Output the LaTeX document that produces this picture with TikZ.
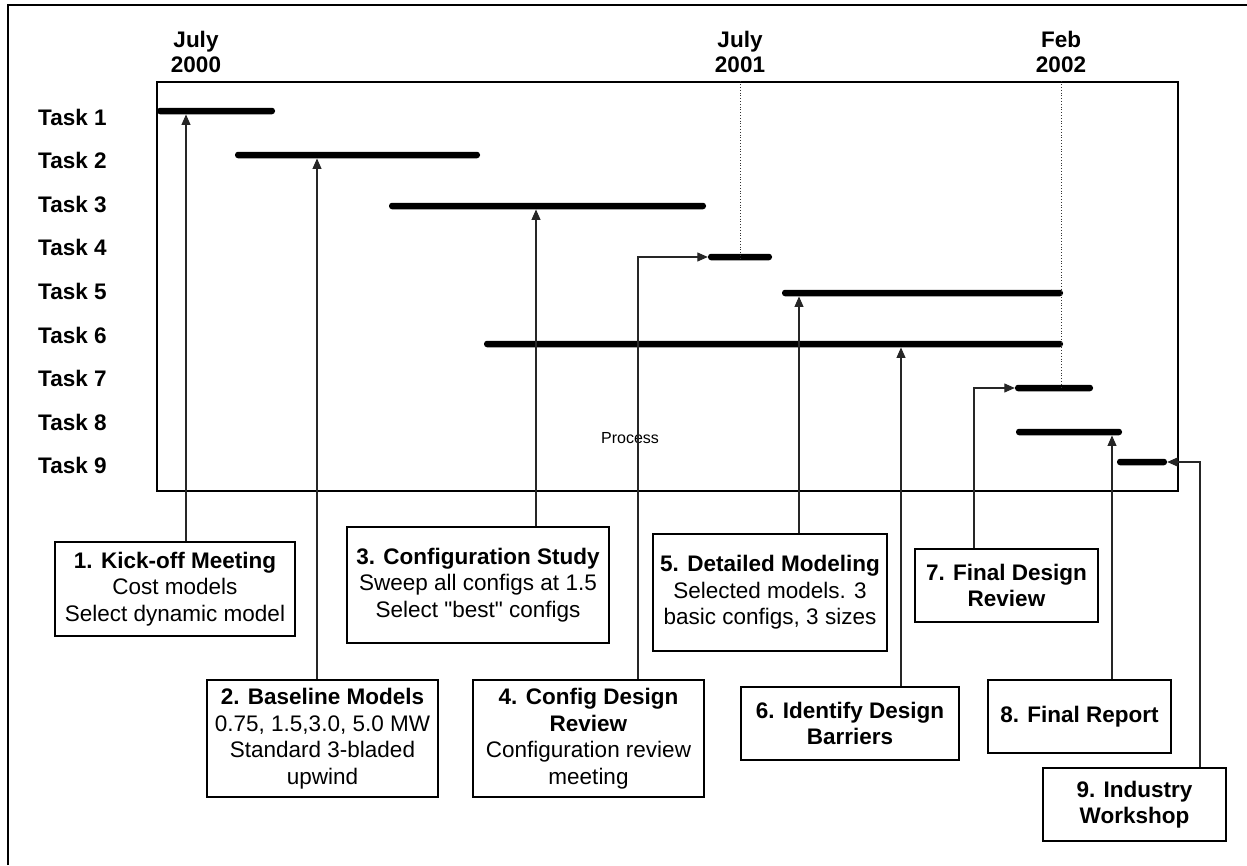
\documentclass[tikz,border=0pt]{standalone}
\usepackage{fontspec}
\setmainfont{Liberation Sans}[Ligatures=TeXOff]
\usepackage{tikz}
\usetikzlibrary{arrows.meta}

\begin{document}
\begin{tikzpicture}[
  x=1pt, y=-1pt,
  font=\fontsize{22.5}{26.5}\selectfont,
  box/.style={draw=black, line width=1.3pt, align=center, inner sep=0pt},
  bar/.style={fill=black, rounded corners=3pt, minimum height=6.5pt, inner sep=0pt},
  arr/.style={-{Triangle[length=10.5pt,width=9pt]}, draw=black!85, line width=1.1pt},
  task/.style={font=\fontsize{22.5}{26.5}\selectfont\bfseries, anchor=base west, inner sep=0pt},
  date/.style={font=\fontsize{22.5}{25}\selectfont\bfseries, align=center, inner sep=0pt},
  milestone/.style={draw=black!80, dotted, line width=0.8pt},
]
  \useasboundingbox (0,0) rectangle (1247,865);

  % Page frame
  \coordinate (pagetl) at (8,5);
  \draw[line width=1.2pt] (pagetl |- 0,865) -- (pagetl) -- (1247,5);

  % Chart area
  \node[draw, line width=1.2pt, minimum width=1021pt, minimum height=409pt, inner sep=0pt]
    (chart) at (667.5,286.5) {};

  % Dates
  \node[date] (d2000) at (196,51.5) {July\\2000};
  \node[date] (d2001) at (740,51.5) {July\\2001};
  \node[date] (d2002) at (1061,51.5) {Feb\\2002};

  % Task labels
  \node[task] (task1) at (38,125)   {Task 1};
  \node[task] (task2) at (38,168.6) {Task 2};
  \node[task] (task3) at (38,212.2) {Task 3};
  \node[task] (task4) at (38,255.8) {Task 4};
  \node[task] (task5) at (38,299.4) {Task 5};
  \node[task] (task6) at (38,343)   {Task 6};
  \node[task] (task7) at (38,386.6) {Task 7};
  \node[task] (task8) at (38,430.2) {Task 8};
  \node[task] (task9) at (38,473.8) {Task 9};

  % Bars
  \node[bar, minimum width=118pt] (bar1) at (216,111)    {};
  \node[bar, minimum width=245pt] (bar2) at (357.5,155)  {};
  \node[bar, minimum width=317pt] (bar3) at (547.5,206)  {};
  \node[bar, minimum width=64pt]  (bar4) at (740,257)    {};
  \node[bar, minimum width=281pt] (bar5) at (922.5,293)  {};
  \node[bar, minimum width=579pt] (bar6) at (773.5,344)  {};
  \node[bar, minimum width=78pt]  (bar7) at (1054,388)   {};
  \node[bar, minimum width=106pt] (bar8) at (1069,432)   {};
  \node[bar, minimum width=50pt]  (bar9) at (1142,462)   {};

  % Milestone marks
  \draw[milestone] (d2001 |- chart.north) -- ([yshift=-6pt]d2001 |- bar4.north);
  \draw[milestone] (d2002 |- chart.north) -- ([yshift=-3pt]d2002 |- bar7.north);

  \node[font=\fontsize{16}{19}\selectfont] (process) at (630,438) {Process};

  % Boxes
  \node[box, minimum width=240pt, minimum height=94pt] (box1) at (175,589)
    {\textbf{1. Kick-off Meeting}\\Cost models\\Select dynamic model};
  \node[box, minimum width=231pt, minimum height=117pt] (box2) at (322.5,738.5)
    {\textbf{2. Baseline Models}\\0.75, 1.5,3.0, 5.0 MW\\Standard 3-bladed\\upwind};
  \node[box, minimum width=262pt, minimum height=116pt] (box3) at (478,585)
    {\textbf{3. Configuration Study}\\Sweep all configs at 1.5\\Select "best" configs};
  \node[box, minimum width=231pt, minimum height=117pt] (box4) at (588.5,738.5)
    {\textbf{4. Config Design}\\\textbf{Review}\\Configuration review\\meeting};
  \node[box, minimum width=234pt, minimum height=117pt] (box5) at (770,592.5)
    {\textbf{5. Detailed Modeling}\\Selected models. 3\\basic configs, 3 sizes};
  \node[box, minimum width=218pt, minimum height=73pt] (box6) at (850,723.5)
    {\textbf{6. Identify Design}\\\textbf{Barriers}};
  \node[box, minimum width=183pt, minimum height=73pt] (box7) at (1006.5,585.5)
    {\textbf{7. Final Design}\\\textbf{Review}};
  \node[box, minimum width=183pt, minimum height=73pt] (box8) at (1079.5,716.5)
    {\textbf{8. Final Report}};
  \node[box, minimum width=183pt, minimum height=73pt] (box9) at (1134.5,804.5)
    {\textbf{9. Industry}\\\textbf{Workshop}};

  % Connectors from the boxes to the bars
  \draw[arr] ([xshift=11pt]box1.north) -- ([xshift=11pt]box1.north |- bar1.south);
  \draw[arr] ([xshift=-5.5pt]box2.north) -- ([xshift=-5.5pt]box2.north |- bar2.south);
  \draw[arr] ([xshift=58pt]box3.north) -- ([xshift=58pt]box3.north |- bar3.south);
  \draw[arr] ([xshift=49.5pt]box4.north) |- (bar4.west);
  \draw[arr] ([xshift=29pt]box5.north) -- ([xshift=29pt]box5.north |- bar5.south);
  \draw[arr] ([xshift=51pt]box6.north) -- ([xshift=51pt]box6.north |- bar6.south);
  \draw[arr] ([xshift=-32.5pt]box7.north) |- (bar7.west);
  \draw[arr] ([xshift=32.5pt]box8.north) -- ([xshift=32.5pt]box8.north |- bar8.south);
  \draw[arr] ([xshift=65.5pt]box9.north) |- (bar9.east);
\end{tikzpicture}
\end{document}
